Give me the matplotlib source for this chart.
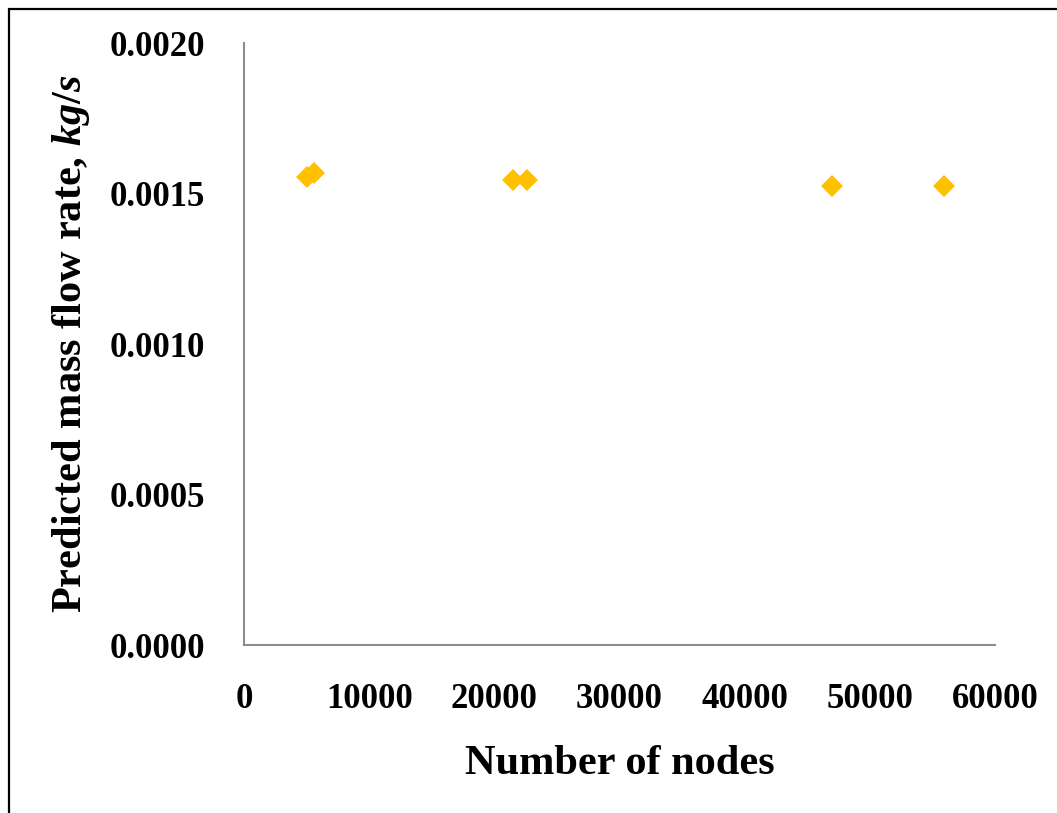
import matplotlib
matplotlib.use("Agg")
import matplotlib.pyplot as plt
from matplotlib.patches import Rectangle

# Grid-independence study: predicted mass flow rate vs mesh size
nodes = [5000, 5600, 21500, 22600, 47000, 55900]
mass_flow = [0.001555, 0.001568, 0.001545, 0.001545, 0.001525, 0.001525]

x_ticks = [0, 10000, 20000, 30000, 40000, 50000, 60000]
y_ticks = [0.0, 0.0005, 0.0010, 0.0015, 0.0020]

plt.rcParams["font.family"] = "Liberation Serif"
plt.rcParams["font.weight"] = "bold"
plt.rcParams["mathtext.fontset"] = "custom"
plt.rcParams["mathtext.it"] = "Liberation Serif:italic:bold"
plt.rcParams["mathtext.rm"] = "Liberation Serif:bold"

fig = plt.figure(figsize=(10.57, 8.13), dpi=100)
ax = fig.add_axes([244 / 1057, 1 - 645 / 813, (995 - 244) / 1057, (645 - 43) / 813])

ax.plot(nodes, mass_flow, linestyle="none", marker="D", markersize=11,
        color="#FFC000", markeredgewidth=0)

ax.set_xlim(0, 60000)
ax.set_ylim(0, 0.0020)
ax.set_xticks(x_ticks)
ax.set_xticklabels([f"{v:d}" for v in x_ticks])
ax.set_yticks(y_ticks)
ax.set_yticklabels([f"{v:.4f}" for v in y_ticks])

for side in ("top", "right"):
    ax.spines[side].set_visible(False)
for side in ("left", "bottom"):
    ax.spines[side].set_color("#8c8c8c")
    ax.spines[side].set_linewidth(1.5)

ax.tick_params(axis="both", length=0, labelsize=25)
ax.tick_params(axis="x", pad=27)
ax.tick_params(axis="y", pad=28)
for lab in ax.get_xticklabels() + ax.get_yticklabels():
    lab.set_fontweight("bold")

ax.set_xlabel("Number of nodes", fontsize=30.5, fontweight="bold", labelpad=21)
ax.set_ylabel(r"Predicted mass flow rate, $\mathit{kg/s}$", fontsize=30.5,
              fontweight="bold", labelpad=13)

# Outer frame around the figure
fig.patches.append(Rectangle((9 / 1057, -0.5), 2.0, 1.5 - 9 / 813,
                             transform=fig.transFigure, fill=False,
                             edgecolor="black", linewidth=1.6))

fig.savefig("out.png", dpi=100)
